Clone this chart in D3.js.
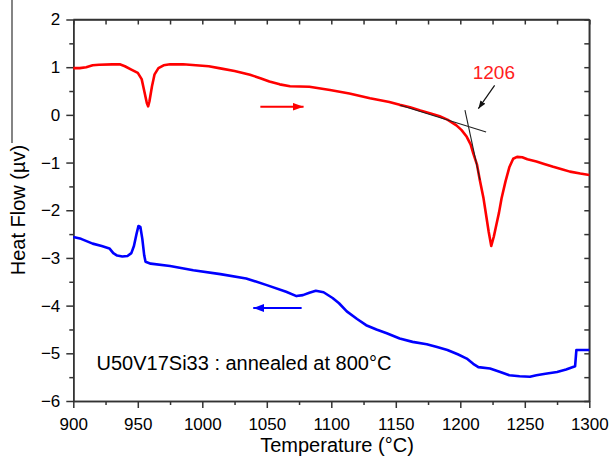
<!DOCTYPE html>
<html>
<head>
<meta charset="utf-8">
<script src="https://cdn.jsdelivr.net/npm/d3@7"></script>
<style>
  html, body { margin: 0; padding: 0; background: #fff; }
  svg { display: block; font-family: "Liberation Sans", Arial, sans-serif; }
</style>
</head>
<body>
<svg id="chart" width="612" height="462"></svg>
<script>
// ---- data ----
const xTicks = [900, 950, 1000, 1050, 1100, 1150, 1200, 1250, 1300];
const yTicks = [2, 1, 0, -1, -2, -3, -4, -5, -6];

const redT = [900, 905, 910, 915, 920, 930, 936, 940, 945, 950, 953, 955, 957, 958, 959, 961, 963, 966, 970, 975, 985, 995, 1005, 1015, 1025, 1037, 1045, 1052, 1060, 1068, 1083, 1099, 1114, 1130, 1145, 1153, 1161, 1169, 1177, 1184, 1190, 1197, 1201, 1205, 1208, 1210, 1213, 1215, 1218, 1220, 1222, 1224, 1226, 1228, 1230, 1232, 1235, 1238, 1241, 1244, 1248, 1252, 1259, 1265, 1272, 1280, 1285, 1293, 1300];
const redV = [0.98, 0.98, 1.0, 1.04, 1.05, 1.06, 1.06, 1.02, 0.95, 0.88, 0.75, 0.5, 0.25, 0.18, 0.28, 0.6, 0.85, 0.98, 1.04, 1.06, 1.06, 1.04, 1.02, 0.97, 0.92, 0.84, 0.77, 0.7, 0.64, 0.6, 0.59, 0.52, 0.45, 0.35, 0.27, 0.21, 0.16, 0.09, 0.03, -0.03, -0.1, -0.22, -0.32, -0.46, -0.62, -0.8, -1.05, -1.35, -1.75, -2.1, -2.45, -2.75, -2.55, -2.3, -2.05, -1.75, -1.4, -1.1, -0.92, -0.88, -0.89, -0.93, -0.98, -1.03, -1.09, -1.15, -1.19, -1.23, -1.26];

const blueT = [900, 906, 915, 922, 928, 931, 934, 938, 942, 945, 947, 949, 950.5, 952, 953.5, 955, 956, 960, 975, 993, 1014, 1034, 1050, 1065, 1073, 1078, 1083, 1088, 1094, 1101, 1106, 1112, 1120, 1127, 1135, 1143, 1153, 1163, 1174, 1182, 1190, 1198, 1205, 1210, 1214, 1223, 1231, 1238, 1246, 1254, 1259, 1266, 1275, 1282, 1289, 1290, 1300];
const blueV = [-2.56, -2.6, -2.7, -2.75, -2.8, -2.9, -2.95, -2.97, -2.96, -2.9, -2.75, -2.5, -2.33, -2.35, -2.6, -2.95, -3.08, -3.12, -3.17, -3.26, -3.34, -3.43, -3.57, -3.71, -3.8, -3.78, -3.73, -3.69, -3.72, -3.84, -3.95, -4.12, -4.28, -4.41, -4.5, -4.58, -4.69, -4.76, -4.81, -4.87, -4.93, -5.02, -5.11, -5.22, -5.29, -5.32, -5.39, -5.46, -5.48, -5.49, -5.46, -5.43, -5.39, -5.34, -5.27, -4.93, -4.93];

// tangent construction lines (data units)
const tangentLines = [
  [[1153.4, 0.20], [1220, -0.36]],
  [[1203.6, 0.10], [1215.3, -1.37]]
];
const onsetArrow = [[1226.6, 0.62], [1214, 0.13]];
const onsetLabel = { t: 1226, v: 0.76, text: "1206" };
const heatingArrow = [[1045, 0.17], [1078.5, 0.17]];
const coolingArrow = [[1077, -4.05], [1039.5, -4.05]];
const note = { t: 918, v: -5.35, text: "U50V17Si33 : annealed at 800°C" };

// ---- layout ----
const svg = d3.select("#chart");
const x = d3.scaleLinear().domain([900, 1300]).range([73.3, 589.3]);
const y = d3.scaleLinear().domain([-6, 2]).range([401, 19.5]);
const axisColor = "#333";

const xMinor = d3.range(925, 1300, 50);
const yMinor = d3.range(-5.5, 2, 1);

function styleAxis(g, showText) {
  g.selectAll("path.domain").attr("stroke", axisColor).attr("stroke-width", 1.5);
  g.selectAll(".tick line").attr("stroke", axisColor).attr("stroke-width", 1.5);
  g.selectAll(".tick text").attr("fill", "#000").attr("font-size", 17)
    .attr("font-family", '"Liberation Sans", Arial, sans-serif');
  if (!showText) g.selectAll(".tick text").remove();
}

// bottom axis
const gb = svg.append("g").attr("transform", `translate(0,${y(-6)})`)
  .call(d3.axisBottom(x).tickValues(xTicks).tickSize(7).tickSizeOuter(0).tickPadding(10).tickFormat(d3.format("d")));
styleAxis(gb, true);
const gbm = svg.append("g").attr("transform", `translate(0,${y(-6)})`)
  .call(d3.axisBottom(x).tickValues(xMinor).tickSize(4).tickSizeOuter(0));
styleAxis(gbm, false);

// left axis
const gl = svg.append("g").attr("transform", `translate(${x(900)},0)`)
  .call(d3.axisLeft(y).tickValues(yTicks).tickSize(7).tickSizeOuter(0).tickPadding(6).tickFormat(d3.format("d")));
styleAxis(gl, true);
const glm = svg.append("g").attr("transform", `translate(${x(900)},0)`)
  .call(d3.axisLeft(y).tickValues(yMinor).tickSize(4).tickSizeOuter(0));
styleAxis(glm, false);

// top axis (ticks inward)
const gt = svg.append("g").attr("transform", `translate(0,${y(2)})`)
  .call(d3.axisBottom(x).tickValues(xTicks.concat(xMinor)).tickSize(5).tickSizeOuter(0));
styleAxis(gt, false);

// right axis (ticks inward)
const gr = svg.append("g").attr("transform", `translate(${x(1300)},0)`)
  .call(d3.axisLeft(y).tickValues(yTicks.concat(yMinor)).tickSize(5).tickSizeOuter(0));
styleAxis(gr, false);

// frame lines completing the box
svg.append("line").attr("x1", x(900)).attr("x2", x(1300)).attr("y1", y(2)).attr("y2", y(2))
  .attr("stroke", axisColor).attr("stroke-width", 1.5);
svg.append("line").attr("x1", x(1300)).attr("x2", x(1300)).attr("y1", y(2)).attr("y2", y(-6))
  .attr("stroke", axisColor).attr("stroke-width", 1.5);

// ---- series ----
const line = d3.line().x(d => x(d[0])).y(d => y(d[1]));
svg.append("path").datum(redT.map((t, i) => [t, redV[i]]))
  .attr("d", line).attr("fill", "none").attr("stroke", "#ff0000").attr("stroke-width", 2.6)
  .attr("stroke-linejoin", "round");
svg.append("path").datum(blueT.map((t, i) => [t, blueV[i]]))
  .attr("d", line).attr("fill", "none").attr("stroke", "#0000ff").attr("stroke-width", 2.6)
  .attr("stroke-linejoin", "round");

// tangent lines
tangentLines.forEach(seg => {
  svg.append("path").datum(seg).attr("d", line).attr("fill", "none")
    .attr("stroke", "#222").attr("stroke-width", 1.1);
});

// arrow markers
const defs = svg.append("defs");
function marker(id, color, w, h) {
  defs.append("marker").attr("id", id).attr("viewBox", `0 0 ${w} ${h}`)
    .attr("refX", w).attr("refY", h / 2).attr("markerUnits", "userSpaceOnUse")
    .attr("markerWidth", w).attr("markerHeight", h).attr("orient", "auto")
    .append("path").attr("d", `M0,0 L${w},${h / 2} L0,${h} Z`).attr("fill", color);
}
marker("arrRed", "#ff0000", 11, 8);
marker("arrBlue", "#0000ff", 11, 8);
marker("arrBlack", "#111", 8, 6);

svg.append("path").datum(onsetArrow).attr("d", line).attr("fill", "none")
  .attr("stroke", "#111").attr("stroke-width", 1.2).attr("marker-end", "url(#arrBlack)");
svg.append("path").datum(heatingArrow).attr("d", line).attr("fill", "none")
  .attr("stroke", "#ff0000").attr("stroke-width", 2.2).attr("marker-end", "url(#arrRed)");
svg.append("path").datum(coolingArrow).attr("d", line).attr("fill", "none")
  .attr("stroke", "#0000ff").attr("stroke-width", 2.2).attr("marker-end", "url(#arrBlue)");

// texts
svg.append("text").attr("x", x(onsetLabel.t)).attr("y", y(onsetLabel.v))
  .attr("text-anchor", "middle").attr("font-size", 19).attr("fill", "#ff2020").text(onsetLabel.text);
svg.append("text").attr("x", x(note.t)).attr("y", y(note.v))
  .attr("font-size", 20).attr("fill", "#000").text(note.text);

// axis titles
svg.append("text").attr("x", 337).attr("y", 452).attr("text-anchor", "middle")
  .attr("font-size", 20).attr("fill", "#000").text("Temperature (°C)");
svg.append("text").attr("transform", "translate(25,210) rotate(-90)").attr("text-anchor", "middle")
  .attr("font-size", 20).attr("fill", "#000").text("Heat Flow (µv)");

// left border line artefact
svg.append("line").attr("x1", 12).attr("x2", 12).attr("y1", 0).attr("y2", 143)
  .attr("stroke", "#333").attr("stroke-width", 1.2);
</script>
</body>
</html>
